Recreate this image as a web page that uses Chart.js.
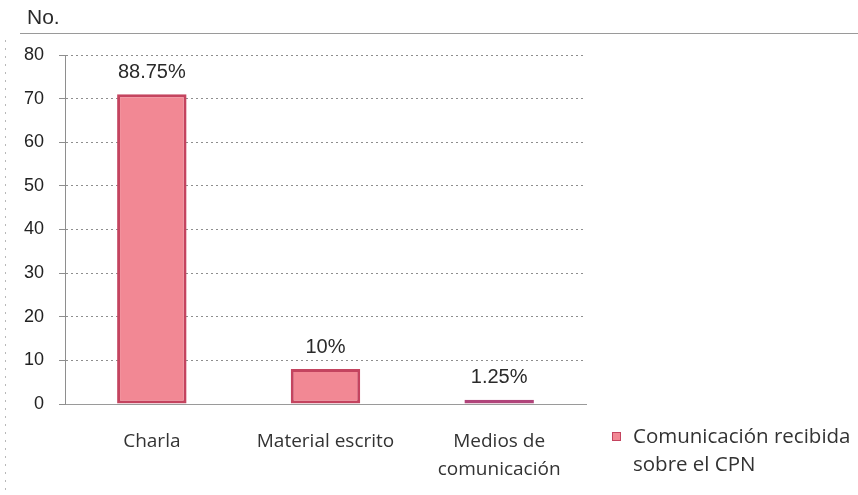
<!DOCTYPE html>
<html>
<head>
<meta charset="utf-8">
<script src="https://cdn.jsdelivr.net/npm/chart.js@4"></script>
<style>
  html, body { margin: 0; padding: 0; background: #fff; }
  #wrap { width: 858px; height: 495px; }
</style>
</head>
<body>
<div id="wrap"><canvas id="c" width="858" height="495"></canvas></div>
<script>
// Fuente de información sobre el CPN (número de personas)
const categories = ['Charla', 'Material escrito', ['Medios de', 'comunicación']];
const counts = [71, 8, 1];
const yTicks = [0, 10, 20, 30, 40, 50, 60, 70, 80];
const seriesName = ['Comunicación recibida', 'sobre el CPN'];
const axisTitle = 'No.';

const total = counts.reduce((a, b) => a + b, 0);
const percentLabels = counts.map(v => {
  const p = v / total * 100;
  return (Math.round(p * 100) / 100).toString() + '%';
});

const FILL = '#f28894';
const EDGE = '#c4445f';
const LABEL_FONT = '"Liberation Sans", Arial, sans-serif';
const TEXT_FONT = '"Open Sans", Lato, sans-serif';

const decorations = {
  id: 'decorations',
  beforeDraw(chart) {
    const ctx = chart.ctx;
    ctx.save();
    // page frame lines
    ctx.strokeStyle = '#9a9a9a';
    ctx.lineWidth = 1;
    ctx.setLineDash([]);
    ctx.beginPath();
    ctx.moveTo(20, 33.5);
    ctx.lineTo(858, 33.5);
    ctx.stroke();
    ctx.strokeStyle = '#b8b8b8';
    ctx.setLineDash([2, 6]);
    ctx.beginPath();
    ctx.moveTo(5.5, 40);
    ctx.lineTo(5.5, 495);
    ctx.stroke();
    ctx.restore();
  },
  afterDraw(chart) {
    const ctx = chart.ctx;
    const meta = chart.getDatasetMeta(0);
    ctx.save();
    // axis title
    ctx.fillStyle = '#2a2a2a';
    ctx.font = '21px ' + LABEL_FONT;
    ctx.textAlign = 'left';
    ctx.textBaseline = 'middle';
    ctx.fillText(axisTitle, 27, 18);
    // value labels above bars
    ctx.font = '20px ' + LABEL_FONT;
    ctx.textAlign = 'center';
    meta.data.forEach((bar, i) => {
      ctx.fillText(percentLabels[i], bar.x, bar.y - 22);
    });
    // legend
    ctx.fillStyle = FILL;
    ctx.fillRect(612, 432, 9, 9);
    ctx.strokeStyle = EDGE;
    ctx.lineWidth = 1;
    ctx.strokeRect(612.5, 432.5, 8, 8);
    ctx.fillStyle = '#333';
    ctx.font = '20.5px ' + TEXT_FONT;
    ctx.textAlign = 'left';
    ctx.fillText(seriesName[0], 633, 437);
    ctx.fillText(seriesName[1], 633, 465);
    ctx.restore();
  }
};

new Chart(document.getElementById('c'), {
  type: 'bar',
  data: {
    labels: categories,
    datasets: [{
      label: seriesName.join(' '),
      data: counts,
      backgroundColor: FILL,
      borderColor: [EDGE, EDGE, '#b0447a'],
      borderWidth: 3,
      borderSkipped: false,
      categoryPercentage: 0.8,
      barPercentage: 0.5
    }]
  },
  options: {
    responsive: false,
    animation: false,
    devicePixelRatio: 1,
    layout: { padding: { left: 10, right: 272, top: 55, bottom: 4 } },
    plugins: { legend: { display: false }, tooltip: { enabled: false } },
    scales: {
      x: {
        afterFit(s) { s.height = 87; },
        grid: { display: false },
        border: { display: true, color: '#9a9a9a', dash: [2, 2] },
        ticks: {
          color: '#333',
          padding: 15,
          font: { family: TEXT_FONT, size: 19, lineHeight: 1.5 },
          maxRotation: 0,
          autoSkip: false
        }
      },
      y: {
        min: 0,
        max: 80,
        afterFit(s) { s.width = 55; },
        afterBuildTicks(s) { s.ticks = yTicks.map(v => ({ value: v })); },
        grid: { color: '#8e8e8e', tickLength: 6, drawTicks: true },
        border: { display: true, color: '#8e8e8e', dash: [2, 3] },
        ticks: {
          color: '#222',
          padding: 15,
          font: { family: LABEL_FONT, size: 18 }
        }
      }
    }
  },
  plugins: [decorations]
});
</script>
</body>
</html>
